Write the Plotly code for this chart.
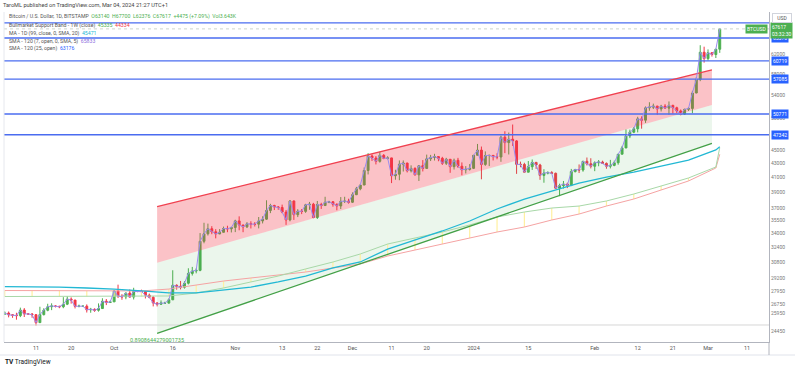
import math
import pandas as pd
import plotly.graph_objects as go

# ---------------- data ----------------
dates = pd.date_range("2023-09-02", "2024-03-04", freq="D")

open_ = [
    # Sep 2-30
    25800,25870,25970,25820,25780,25750,26240,25900,25890,25830,25150,25840,26220,26530,26600,26570,26530,26760,27220,27130,26570,26580,26580,26260,26300,26220,26370,27030,26910,
    # Oct
    26970,27980,27500,27430,27780,27410,27930,27950,27920,27590,27390,26870,26760,26860,26860,27160,28520,28420,28330,28720,29680,29920,29990,33070,33920,34500,34150,33900,34090,34530,34490,
    # Nov
    34650,35420,34940,34720,35080,35040,35040,35420,35630,36690,37310,37130,37060,36490,35540,37880,36170,36600,36580,37390,37470,35830,37440,37300,37720,37780,37460,37250,37830,37860,
    # Dec
    37720,38690,39460,39970,41980,44080,43770,43290,44170,43720,43790,41240,41450,42880,43030,41940,42270,41370,42660,42270,43660,43860,43990,43730,43010,43590,42520,43440,42580,42070,42140,
    # Jan
    42280,44180,44960,42840,44150,44160,43970,43930,46950,46110,46640,46370,42850,42840,41740,42510,43140,42760,41290,41620,41670,41580,39550,39890,40100,39940,41820,42120,42040,43300,42940,
    # Feb
    42580,43080,43190,42990,42580,42700,43090,44340,45290,47150,47760,48300,49950,49720,51830,51950,52130,51640,52120,51780,52260,51850,51300,50750,51570,51730,54490,57050,62500,
    # Mar 1-4
    61180,62400,62030,63140,
]
high = [
    25970,26120,26110,25880,26000,26450,26410,25940,25970,25880,26530,26400,26800,26840,26660,26620,27400,27490,27380,27160,26720,26630,26740,26430,26390,26830,27300,27230,27090,
    28050,28580,27680,27830,28120,28280,28030,28100,27980,27730,27480,26940,27100,26980,27290,30000,28610,28940,28920,30200,30340,30200,34000,35200,35100,34800,34450,34460,34750,34850,34720,
    35560,35970,34940,35280,35380,35280,35890,35980,37970,37520,37400,37240,37420,36750,37970,37940,36850,36870,37520,37760,37640,37880,37650,38420,37900,37840,37580,38380,38420,38170,
    38990,39720,40000,42400,44500,44300,44060,44700,44360,44040,43810,42080,43420,43420,43100,42710,42430,42750,43470,44280,44240,44400,44020,43950,43800,43600,43690,43800,43130,42600,42890,
    44200,45900,45500,44760,44280,44230,44480,47200,47900,47700,49000,46500,43250,43080,43330,43560,43200,42930,42160,41860,41880,41680,40150,40520,40290,42200,42200,42840,43310,43850,43740,
    43290,43480,43380,43120,43500,43400,44350,45600,48200,48170,48580,50300,50370,52080,52820,52570,52200,52360,52480,52960,52380,52030,51540,51690,51950,54900,57500,64000,63680,
    63100,62450,63220,67700,
]
low = [
    25730,25810,25600,25560,25400,25620,25630,25810,25560,24900,25130,25760,26130,26230,26470,26400,26400,26680,26810,26380,26480,26520,26020,26000,26080,26100,26340,26680,26890,
    26960,27320,27160,27210,27360,27190,27860,27700,27280,27300,26560,26560,26690,26820,26800,27130,28100,28130,28200,28600,29470,29690,29900,32850,33720,33870,33400,33880,34050,34100,34070,
    34110,34320,34100,34580,34530,34760,34540,35120,35540,36360,36740,36770,36350,34950,35370,35540,35880,36240,36400,36770,35740,35650,36880,37270,37600,37160,36710,36870,37620,37540,
    37620,38640,39270,39960,41420,43350,42840,43100,43600,43570,40230,40690,40620,41830,41700,41700,41260,40520,41840,42210,43330,43410,43300,42770,42760,41650,42110,42340,41300,41560,41970,
    42180,44170,40750,42640,42600,43420,43590,43220,44500,44300,45600,41500,42440,41720,41720,42050,42200,40680,40280,41430,41500,39450,38500,39500,39560,39820,41700,41620,41800,42690,42270,
    41880,42580,42900,42220,42270,42580,42800,44340,45250,46810,47600,47720,48320,49270,51330,51620,50640,51200,51710,50650,50830,50930,50540,50600,51300,50900,54450,56700,60360,
    60780,61600,61300,62376,
]
close = [
    25870,25970,25820,25780,25750,26240,25900,25890,25830,25150,25840,26220,26530,26600,26570,26530,26760,27220,27130,26570,26580,26580,26260,26300,26220,26370,27030,26910,26970,
    27980,27500,27430,27780,27410,27930,27950,27920,27590,27390,26870,26760,26860,26860,27160,28520,28420,28330,28720,29680,29920,29990,33070,33920,34500,34150,33900,34090,34530,34490,34650,
    35420,34940,34720,35080,35040,35040,35420,35630,36690,37310,37130,37060,36490,35540,37880,36170,36600,36580,37390,37470,35830,37440,37300,37720,37780,37460,37250,37830,37860,37720,
    38690,39460,39970,41980,44080,43770,43290,44170,43720,43790,41240,41450,42880,43030,41940,42270,41370,42660,42270,43660,43860,43990,43730,43010,43590,42520,43440,42580,42070,42140,42280,
    44180,44960,42840,44150,44160,43970,43930,46950,46110,46640,46370,42850,42840,41740,42510,43140,42760,41290,41620,41670,41580,39550,39890,40100,39940,41820,42120,42040,43300,42940,42580,
    43080,43190,42990,42580,42700,43090,44340,45290,47150,47760,48300,49950,49720,51830,51950,52130,51640,52120,51780,52260,51850,51300,50750,51570,51730,54490,57050,62500,61180,
    62400,62030,63140,67617,
]

# weekly samples (Sundays) + current bar
week_dates = list(pd.date_range("2023-09-03", "2024-03-03", freq="7D")) + [pd.Timestamp("2024-03-04")]
band_sma20w = [27460,27460,27460,27460, 27460,27460,27510,27790,28260, 28840,29420,30130,30845,
               31690,32770,33440,34120,34940, 35890,36500,36990,37240, 37880,38780,39840,40930, 42470, 45335]
band_ema21w = [28020,28020,28020,27980, 27980,27980,28160,28550,28930, 29230,29520,29820,30230,
               30640,31470,32120,32770,33440, 34120,34700,35530,36250, 37240,38130,39310,40520, 42330, 44334]
ma99 = [28400,28400,28350,28260, 28160,27980,27790,27790,28070, 28350,28840,29420,30230,
        30845,32220,33220,34240,35410, 36870,38130,39170,40240, 41060,41760,42610,43480, 44980, 45471]

levels_blue = [69000, 65570, 60719, 57085, 50771, 47342]
levels_labeled = [65570, 60719, 57085, 50771, 47342]
level_gray = 24950
last_price = 67617

chan_dates = ["2023-10-12", "2024-03-02"]
chan_upper = [37160, 58880]
chan_base = [30770, 52330]
chan_lower = [24260, 46000]
pearson_r = "0.8908644279001735"

ytick_vals = [24450, 25950, 26750, 27950, 29200, 30800, 32400, 34000, 35500, 37000,
              39000, 41000, 43000, 45000, 50000, 54000, 58000, 62000]
xtick_dates = ["2023-09-11", "2023-09-20", "2023-10-01", "2023-10-16", "2023-11-01", "2023-11-13",
               "2023-11-22", "2023-12-01", "2023-12-11", "2023-12-20", "2024-01-01", "2024-01-15",
               "2024-02-01", "2024-02-12", "2024-02-21", "2024-03-01", "2024-03-11"]
xtick_text = ["11", "20", "Oct", "16", "Nov", "13", "22", "Dec", "11", "20", "2024", "15",
              "Feb", "12", "21", "Mar", "11"]

# ---------------- styling ----------------
UP = "#4caf50"
DOWN = "#f23645"
BLUE = "#2962ff"
FONT = "Roboto"
X_RANGE = ["2023-09-02 19:30", "2024-03-16 14:30"]
Y_RANGE = [4.3722, 4.85475]
LEG = 5.2

PL, PR, PT, PB = 4, 769, 12, 342


def px(p):
    return (p - PL) / (PR - PL)


def py(p):
    return (PB - p) / (PB - PT)


fig = go.Figure()

# regression channel fills
fig.add_trace(go.Scatter(x=chan_dates, y=chan_lower, mode="lines", line=dict(width=0), hoverinfo="skip"))
fig.add_trace(go.Scatter(x=chan_dates, y=chan_base, mode="lines", line=dict(width=0),
                         fill="tonexty", fillcolor="rgba(76,175,80,0.11)", hoverinfo="skip"))
fig.add_trace(go.Scatter(x=chan_dates, y=chan_upper, mode="lines", line=dict(width=0),
                         fill="tonexty", fillcolor="rgba(242,54,69,0.30)", hoverinfo="skip"))

# gray level and last price line
fig.add_trace(go.Scatter(x=X_RANGE, y=[level_gray, level_gray], mode="lines",
                         line=dict(color="#d6d6d6", width=1), hoverinfo="skip"))
fig.add_trace(go.Scatter(x=X_RANGE, y=[last_price, last_price], mode="lines",
                         line=dict(color="#cdd5cd", width=1, dash="dot"), hoverinfo="skip"))

# bull market support band: yellow weekly marks
mx, my = [], []
for d, a, b in zip(week_dates[:-1], band_ema21w[:-1], band_sma20w[:-1]):
    mx += [d, d, None]
    my += [a, b, None]
fig.add_trace(go.Scatter(x=mx, y=my, mode="lines", line=dict(color="#fff0a0", width=1.2), hoverinfo="skip"))
fig.add_trace(go.Scatter(x=week_dates, y=band_ema21w, mode="lines",
                         line=dict(color="#f5a3a3", width=1), hoverinfo="skip"))
fig.add_trace(go.Scatter(x=week_dates, y=band_sma20w, mode="lines",
                         line=dict(color="#a8d8a8", width=1), hoverinfo="skip"))
fig.add_trace(go.Scatter(x=week_dates, y=ma99, mode="lines",
                         line=dict(color="#22b8d4", width=1.3), hoverinfo="skip"))

# blue horizontal levels
for v in levels_blue:
    fig.add_trace(go.Scatter(x=X_RANGE, y=[v, v], mode="lines",
                             line=dict(color="#4a6cf0", width=1.4), hoverinfo="skip"))

# regression lines
fig.add_trace(go.Scatter(x=chan_dates, y=chan_upper, mode="lines",
                         line=dict(color="#f0404f", width=1.3), hoverinfo="skip"))
fig.add_trace(go.Scatter(x=chan_dates, y=chan_lower, mode="lines",
                         line=dict(color="#43a047", width=1.3), hoverinfo="skip"))

# candles
fig.add_trace(go.Candlestick(
    x=dates, open=open_, high=high, low=low, close=close,
    increasing=dict(line=dict(color=UP, width=1), fillcolor=UP),
    decreasing=dict(line=dict(color=DOWN, width=1), fillcolor=DOWN),
    whiskerwidth=0, hoverinfo="skip",
))

# short SMA (tracks closes)
fig.add_trace(go.Scatter(x=dates, y=close, mode="lines",
                         line=dict(color="#9a8cf0", width=1), hoverinfo="skip"))

ann = []


def note(text, x, y, xanchor="left", yanchor="middle", size=5.5, color="#333", **kw):
    ann.append(dict(text=text, x=x, y=y, xref="paper", yref="paper", xanchor=xanchor,
                    yanchor=yanchor, showarrow=False, font=dict(family=FONT, size=size, color=color), **kw))


note("TaroML published on TradingView.com, Mar 04, 2024 21:27 UTC+1", px(1), py(5.5), size=5.6, color="#444")
note('Bitcoin / U.S. Dollar, 1D, BITSTAMP  <span style="color:#4caf50">O63140  H67700  L62376  C67617  +4475 (+7.09%)  Vol3.643K</span>',
     px(7), py(16.7), size=LEG, color="#555")
note('Bullmarket Support Band - 1W (close)  <span style="color:#4caf50">45335</span>  <span style="color:#f23645">44334</span>',
     px(7), py(25.7), size=LEG, color="#555")
note('MA - 1D (99, close, 0, SMA, 20)  <span style="color:#22b8d4">45471</span>', px(7), py(33.3), size=LEG, color="#555")
note('SMA - 120 (7, open, 0, SMA, 5)  <span style="color:#8e6fe0">65833</span>', px(7), py(41), size=LEG, color="#555")
note('SMA - 120 (25, open)  <span style="color:#2962ff">63176</span>', px(7), py(48.3), size=LEG, color="#555")

# Pearson's R label
ann.append(dict(text=pearson_r, x=chan_dates[0], y=py(339.5), xref="x", yref="paper", xanchor="center",
                yanchor="middle", showarrow=False, font=dict(family=FONT, size=5.5, color=UP)))

# price axis labels
for v in levels_labeled:
    ann.append(dict(text=str(v), x=px(771), y=math.log10(v), xref="paper", yref="y", xanchor="left",
                    yanchor="middle", showarrow=False, bgcolor=BLUE, borderpad=1,
                    font=dict(family=FONT, size=5, color="white")))
ann.append(dict(text=f"{last_price}<br>03:32:30", x=px(770), y=math.log10(last_price), xref="paper", yref="y",
                xanchor="left", yanchor="middle", yshift=-2, showarrow=False, bgcolor=UP, borderpad=1,
                align="left", font=dict(family=FONT, size=5, color="white")))
ann.append(dict(text="BTCUSD", x=px(768), y=math.log10(last_price), xref="paper", yref="y",
                xanchor="right", yanchor="middle", showarrow=False, bgcolor=UP, borderpad=1,
                font=dict(family=FONT, size=5, color="white")))
note("USD", px(782), py(17.5), xanchor="center", size=5, color="#555", bordercolor="#d1d4dc",
     borderwidth=1, borderpad=1, bgcolor="white", width=16)
note("<b>TV</b> TradingView", px(3), py(362), size=6.5, color="#131722")

shapes = [
    dict(type="line", xref="paper", yref="paper", x0=0, x1=0, y0=0, y1=1, line=dict(color="#e6e8ee", width=1)),
    dict(type="line", xref="paper", yref="paper", x0=px(0), x1=px(795), y0=py(355), y1=py(355),
         line=dict(color="#e0e3eb", width=1)),
    dict(type="line", xref="paper", yref="paper", x0=1, x1=1, y0=py(342), y1=py(355),
         line=dict(color="#b2b5be", width=1)),
]

fig.update_layout(
    width=800, height=370,
    margin=dict(l=PL, r=800 - PR, t=PT, b=370 - PB),
    paper_bgcolor="white", plot_bgcolor="white", showlegend=False,
    annotations=ann, shapes=shapes,
    xaxis=dict(type="date", range=X_RANGE, showgrid=False, zeroline=False, showline=True,
               linecolor="#b2b5be", linewidth=1, tickvals=xtick_dates, ticktext=xtick_text, ticks="",
               tickfont=dict(family=FONT, size=5.5, color="#555"), rangeslider=dict(visible=False)),
    yaxis=dict(type="log", side="right", range=Y_RANGE, showgrid=False, zeroline=False, showline=True,
               linecolor="#b2b5be", linewidth=1, tickvals=ytick_vals, ticktext=[str(v) for v in ytick_vals],
               ticks="", tickfont=dict(family=FONT, size=5, color="#777")),
)

fig.write_html("out.html", config={"displayModeBar": False, "staticPlot": True},
               post_script="document.body.style.margin='0';document.body.style.overflow='hidden';")
